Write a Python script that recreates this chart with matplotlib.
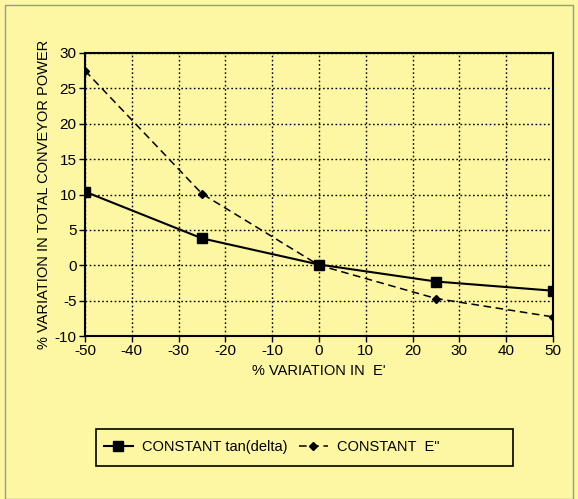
import matplotlib
matplotlib.use('Agg')
import matplotlib.pyplot as plt

# -------------------------
# DATA
# -------------------------
x_var = [-50, -25, 0, 25, 50]
const_tan = [10.4, 3.8, 0.1, -2.3, -3.6]
const_e2 = [27.5, 10.1, 0.0, -4.7, -7.3]

x_ticks = [-50, -40, -30, -20, -10, 0, 10, 20, 30, 40, 50]
y_ticks = [-10, -5, 0, 5, 10, 15, 20, 25, 30]

bg = '#fdf6a2'
plt.rcParams['font.family'] = ['Liberation Sans', 'DejaVu Sans']
plt.rcParams['axes.unicode_minus'] = False

fig = plt.figure(figsize=(5.78, 4.99), dpi=100)
fig.patch.set_facecolor(bg)
W, H = 578, 499
ax = fig.add_axes([85 / W, 1 - 336 / H, (553 - 85) / W, (336 - 53) / H])
ax.set_facecolor(bg)

ax.plot(x_var, const_tan, color='black', lw=1.5, marker='s', ms=7,
        label='CONSTANT tan(delta)', zorder=4)
ax.plot(x_var, const_e2, color='black', lw=1.1, ls=(0, (5, 3)), marker='D', ms=4.5,
        label='CONSTANT  E"', zorder=4)

ax.set_xlim(-50, 50)
ax.set_ylim(-10, 30)
ax.set_xticks(x_ticks)
ax.set_yticks(y_ticks)
ax.grid(True, color='black', ls=(0, (1.2, 1.8)), lw=1.0)
ax.tick_params(axis='both', labelsize=11, length=4, width=1, direction='out', pad=2)
for s in ax.spines.values():
    s.set_linewidth(1.5)

ax.set_xlabel("% VARIATION IN  E'", fontsize=10.5, labelpad=4)
ax.set_ylabel('% VARIATION IN TOTAL CONVEYOR POWER', fontsize=10.5, labelpad=3)

# legend entries left-aligned inside a wider box (96..513 x 429..466 px)
leg = fig.legend(loc='center left', bbox_to_anchor=(98 / W, 1 - 447 / H), ncol=2,
                 fontsize=10.5, frameon=False, handlelength=2.0, columnspacing=0.8,
                 handletextpad=0.6, borderaxespad=0)
fig.add_artist(plt.Rectangle((96 / W, 1 - 466 / H), 417 / W, 37 / H,
                             transform=fig.transFigure, fill=False,
                             edgecolor='black', lw=1.2))

# page edge frame from the scan
fig.add_artist(plt.Rectangle((5 / W, 0), 1 - 10 / W, 1 - 5 / H, transform=fig.transFigure,
                             fill=False, edgecolor='#999999', lw=1))

fig.savefig('out.png', dpi=100, facecolor=bg)
